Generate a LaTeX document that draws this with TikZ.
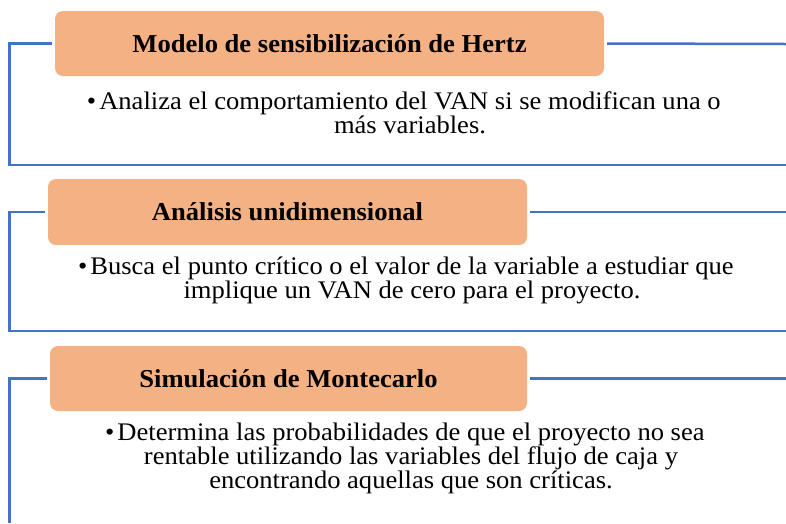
\documentclass[tikz,border=0pt]{standalone}
\usepackage{fontspec}
\setmainfont{Liberation Serif}
\newfontfamily\bodyfont[FakeStretch=1.05]{Liberation Serif}
\newfontfamily\titlefont[FakeStretch=1.03]{Liberation Serif}
\definecolor{boxorange}{RGB}{244,177,131}
\definecolor{lineblue}{RGB}{68,114,196}
\begin{document}
\begin{tikzpicture}[x=1pt,y=-1pt,
  hdr/.style={fill=boxorange, rounded corners=8pt, draw=none, inner sep=0pt,
    font=\titlefont\bfseries\fontsize{25.8}{28}\selectfont},
  bodytxt/.style={font=\bodyfont\fontsize{25.3}{24}\selectfont, align=center, inner sep=0pt},
  frame/.style={draw=lineblue, line width=2.5pt}]
\useasboundingbox (0,0) rectangle (786,523);
\fill[white] (0,0) rectangle (786,523);

% free ends
\coordinate (r1) at (786,44);
\coordinate (e1) at (786,165);
\coordinate (c1) at (9.5,165);
\coordinate (r2) at (786,212);
\coordinate (e2) at (786,331);
\coordinate (c2) at (9.5,331);
\coordinate (r3) at (786,378.5);
\coordinate (c3) at (9.5,523);

% headers
\node[hdr, minimum width=549pt, minimum height=65pt] (h1) at (329.5,43.5) {Modelo de sensibilización de Hertz};
\node[hdr, minimum width=479pt, minimum height=66pt] (h2) at (287.5,212) {Análisis unidimensional};
\node[hdr, minimum width=477pt, minimum height=65pt] (h3) at (288.5,378.5) {Simulación de Montecarlo};

% frames
\draw[frame] ([xshift=-3pt]h1.west) -| (c1) -- (e1);
\draw[frame] ([xshift=3pt]h1.east) -- (r1);
\draw[frame] ([xshift=-3pt]h2.west) -| (c2) -- (e2);
\draw[frame] ([xshift=3pt]h2.east) -- (r2);
\draw[frame] ([xshift=-3pt]h3.west) -| (c3);
\draw[frame] ([xshift=3pt]h3.east) -- (r3);

% texts
\node[bodytxt] (t1) at (410,113) {\llap{•\hspace{3pt}}Analiza el comportamiento del VAN si se modifican una o\\más variables.};
\node[bodytxt] (t2) at (412,280) {\llap{•\hspace{3pt}}Busca el punto crítico o el valor de la variable a estudiar que\\implique un VAN de cero para el proyecto.};
\node[bodytxt] (t3) at (411,458) {\llap{•\hspace{3pt}}Determina las probabilidades de que el proyecto no sea\\rentable utilizando las variables del flujo de caja y\\encontrando aquellas que son críticas.};
\end{tikzpicture}
\end{document}
